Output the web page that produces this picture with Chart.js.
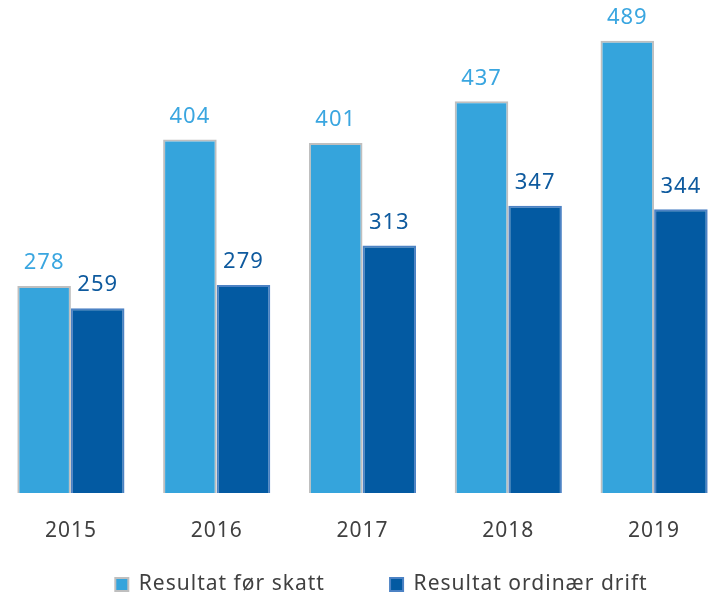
<!DOCTYPE html>
<html>
<head>
<meta charset="utf-8">
<script src="https://cdn.jsdelivr.net/npm/chart.js@4.4.1/dist/chart.umd.min.js"></script>
<style>
  html, body { margin: 0; padding: 0; background: #fff; overflow: hidden; }
  #wrap { position: absolute; left: -2px; top: 0; width: 767px; height: 595px; }
</style>
</head>
<body>
<div id="wrap"><canvas id="chart"></canvas></div>
<script>
// data
const years = ["2015", "2016", "2017", "2018", "2019"];
const resultatForSkatt = [278, 404, 401, 437, 489];
const resultatOrdinaerDrift = [259, 279, 313, 347, 344];

const FONT = "'Noto Sans', 'Open Sans', sans-serif";

// the original text is a bit spaced out, like Calibri in Office
const spacing = {
  id: "spacing",
  beforeUpdate(chart) { chart.ctx.letterSpacing = "1px"; },
  beforeDraw(chart) { chart.ctx.letterSpacing = "1px"; },
};

// draws the value above each bar
const valueLabels = {
  id: "valueLabels",
  afterDatasetsDraw(chart) {
    const ctx = chart.ctx;
    ctx.save();
    ctx.font = "22px " + FONT;
    ctx.textAlign = "center";
    ctx.textBaseline = "bottom";
    chart.data.datasets.forEach(function (ds, i) {
      const meta = chart.getDatasetMeta(i);
      ctx.fillStyle = ds.labelColor;
      meta.data.forEach(function (bar, j) {
        ctx.fillText(ds.data[j], bar.x, bar.y - 12);
      });
    });
    ctx.restore();
  },
};

new Chart(document.getElementById("chart"), {
  type: "bar",
  data: {
    labels: years,
    datasets: [
      {
        label: "Resultat før skatt",
        data: resultatForSkatt,
        backgroundColor: "#35a4dc",
        borderColor: "#bfbfbf",
        borderWidth: 2,
        borderSkipped: false,
        labelColor: "#3aa6e0",
      },
      {
        label: "Resultat ordinær drift",
        data: resultatOrdinaerDrift,
        backgroundColor: "#035aa2",
        borderColor: "#4c82c4",
        borderWidth: 2,
        borderSkipped: false,
        labelColor: "#0e5a9e",
      },
    ],
  },
  options: {
    responsive: true,
    maintainAspectRatio: false,
    animation: false,
    datasets: {
      bar: { barPercentage: 1, categoryPercentage: 0.735 },
    },
    layout: { padding: { top: 28, right: 0, left: 0, bottom: -10 } },
    scales: {
      x: {
        grid: { display: false },
        border: { display: false },
        ticks: { color: "#404040", font: { family: FONT, size: 21 }, padding: 17 },
        afterFit(scale) { scale.height = 61; },
      },
      y: {
        position: "right",
        min: 100,
        max: 500,
        grid: { display: false },
        border: { display: false },
        ticks: { display: false },
        // empty space on the right so the legend sits off-centre like the original
        afterFit(scale) { scale.width = 38; },
      },
    },
    plugins: {
      legend: {
        position: "bottom",
        labels: {
          color: "#404040",
          font: { family: FONT, size: 21 },
          boxWidth: 13,
          boxHeight: 13,
          padding: 20,
          generateLabels(chart) {
            const items = Chart.defaults.plugins.legend.labels.generateLabels(chart);
            items[0].text += "       ";
            return items;
          },
        },
      },
      tooltip: { enabled: false },
    },
  },
  plugins: [spacing, valueLabels],
});
</script>
</body>
</html>
